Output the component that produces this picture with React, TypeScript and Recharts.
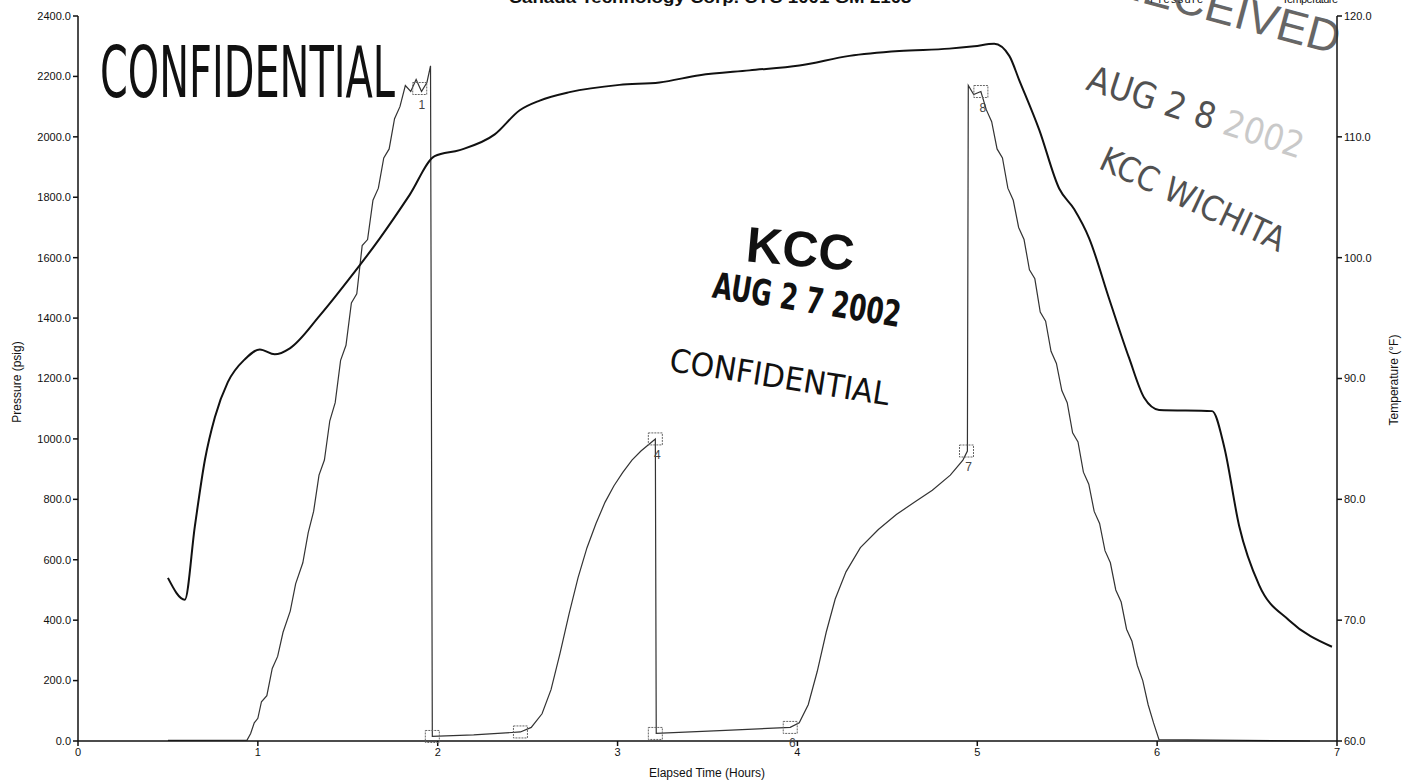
import React from 'react';
import {
  ComposedChart,
  Line,
  Scatter,
  XAxis,
  YAxis,
} from 'recharts';

const hourTicks = [0, 1, 2, 3, 4, 5, 6, 7];
const pressureTicks = [0, 200, 400, 600, 800, 1000, 1200, 1400, 1600, 1800, 2000, 2200, 2400];
const tempTicks = [60, 70, 80, 90, 100, 110, 120];

const pressureHours = [
  0.5, 0.94, 0.96, 0.98, 1.0, 1.02, 1.05, 1.08, 1.11, 1.14, 1.18, 1.21, 1.25, 1.28, 1.31, 1.34,
  1.37, 1.4, 1.43, 1.46, 1.49, 1.52, 1.55, 1.58, 1.61, 1.64, 1.67, 1.7, 1.73, 1.76, 1.79, 1.82,
  1.85, 1.88, 1.91, 1.94, 1.96, 1.97, 2.2, 2.46, 2.52, 2.58, 2.63, 2.68, 2.73, 2.78, 2.83, 2.88,
  2.93, 2.98, 3.03, 3.08, 3.13, 3.18, 3.21, 3.215, 3.6, 3.96, 4.01, 4.06, 4.11, 4.16, 4.21, 4.27,
  4.35, 4.45, 4.55, 4.65, 4.75, 4.85, 4.92, 4.945, 4.95, 4.98, 5.02, 5.05, 5.08, 5.11, 5.14, 5.17,
  5.2, 5.23, 5.26, 5.29, 5.32, 5.35, 5.38, 5.41, 5.44, 5.47, 5.5, 5.53, 5.56, 5.59, 5.62, 5.65,
  5.68, 5.71, 5.74, 5.77, 5.8, 5.83, 5.86, 5.89, 5.92, 5.95, 5.98, 6.01, 6.85,
];
const pressurePsig = [
  2, 3, 25, 60, 75, 130, 150, 240, 280, 360, 430, 520, 590, 690, 760, 880,
  930, 1060, 1120, 1260, 1310, 1450, 1480, 1640, 1660, 1790, 1830, 1930, 1960, 2060, 2100, 2170,
  2150, 2190, 2150, 2180, 2235, 15, 20, 30, 45, 90, 170, 290, 420, 540, 640, 720,
  790, 845, 890, 930, 960, 985, 1000, 25, 35, 45, 60, 120, 230, 360, 470, 560,
  640, 700, 750, 790, 830, 880, 930, 960, 2170, 2140, 2150, 2090, 2050, 1960, 1930, 1830,
  1790, 1700, 1660, 1560, 1530, 1420, 1390, 1290, 1250, 1160, 1120, 1020, 990, 890, 850, 760,
  720, 630, 590, 500, 460, 370, 330, 250, 200, 120, 60, 5, 0,
];

const tempHours = [
  0.5, 0.594, 0.65, 0.706, 0.761, 0.833, 0.928, 1.011, 1.094, 1.178, 1.344, 1.511, 1.678, 1.844,
  1.983, 2.122, 2.317, 2.456, 2.567, 2.733, 3.011, 3.233, 3.456, 3.733, 4.011, 4.289, 4.567, 4.844,
  4.983, 5.094, 5.178, 5.233, 5.344, 5.456, 5.539, 5.622, 5.733, 5.844, 5.928, 6.011, 6.306, 6.372,
  6.456, 6.567, 6.733, 6.972,
];
const tempF = [
  73.5, 71.7, 77.8, 83.3, 86.8, 89.7, 91.6, 92.4, 92.0, 92.5, 95.2, 98.3, 101.6, 105.2,
  108.4, 108.9, 110.2, 112.2, 113.0, 113.7, 114.3, 114.5, 115.1, 115.5, 115.9, 116.7, 117.1, 117.3,
  117.5, 117.7, 116.7, 114.7, 110.6, 105.7, 104.0, 101.6, 96.6, 91.7, 88.4, 87.4, 87.3, 84.4,
  77.8, 72.9, 70.0, 67.8,
];

const markerHours = [1.9, 1.97, 2.46, 3.21, 3.21, 3.96, 4.94, 5.02];
const markerPsig = [2160, 15, 30, 1000, 25, 45, 960, 2150];
const markerTags = ['1', '', '', '4', '', '6', '7', '8'];

const pressureData = pressureHours.map((t, i) => ({ t, p: pressurePsig[i] }));
const tempData = tempHours.map((t, i) => ({ t, temp: tempF[i] }));
const markerData = markerHours.map((t, i) => ({ t, p: markerPsig[i], tag: markerTags[i] }));

const FONT = '"Liberation Sans", Arial, sans-serif';
const NARROW = '"Liberation Sans Narrow", "DejaVu Sans Condensed", sans-serif';

function MarkerShape(props: any) {
  const { cx, cy, payload } = props;
  return (
    <g>
      <rect x={cx - 7} y={cy - 6} width={14} height={12} fill="none" stroke="#666" strokeWidth={1} strokeDasharray="2 1" />
      {payload.tag && (
        <text x={cx + 2} y={cy + 20} textAnchor="middle" fontSize={12} fontFamily={FONT} fill="#444">
          {payload.tag}
        </text>
      )}
    </g>
  );
}

export default function App() {
  return (
    <div style={{ position: 'absolute', left: 0, top: 0, width: 1417, height: 782, background: '#fff', overflow: 'hidden' }}>
      <ComposedChart width={1417} height={782} margin={{ top: 16, right: 0, bottom: 0, left: 0 }}>
        <XAxis
          dataKey="t"
          type="number"
          domain={[0, 7]}
          ticks={hourTicks}
          allowDuplicatedCategory={false}
          height={41}
          stroke="#111"
          strokeWidth={1.5}
          tickSize={5}
          tickMargin={2}
          tick={{ fontSize: 11, fill: '#111', fontFamily: FONT }}
        />
        <YAxis
          yAxisId="p"
          domain={[0, 2400]}
          ticks={pressureTicks}
          width={78}
          stroke="#111"
          strokeWidth={1.5}
          tickSize={5}
          tickMargin={2}
          tickFormatter={(v: number) => v.toFixed(1)}
          tick={{ fontSize: 11, fill: '#111', fontFamily: FONT }}
        />
        <YAxis
          yAxisId="temp"
          orientation="right"
          domain={[60, 120]}
          ticks={tempTicks}
          width={80}
          stroke="#111"
          strokeWidth={1.5}
          tickSize={5}
          tickMargin={2}
          tickFormatter={(v: number) => v.toFixed(1)}
          tick={{ fontSize: 11, fill: '#111', fontFamily: FONT }}
        />
        <Line
          yAxisId="p"
          data={pressureData}
          dataKey="p"
          type="linear"
          stroke="#333"
          strokeWidth={1.2}
          dot={false}
          isAnimationActive={false}
        />
        <Line
          yAxisId="temp"
          data={tempData}
          dataKey="temp"
          type="monotone"
          stroke="#111"
          strokeWidth={2}
          dot={false}
          isAnimationActive={false}
        />
        <Scatter
          yAxisId="p"
          data={markerData}
          dataKey="p"
          shape={<MarkerShape />}
          isAnimationActive={false}
        />
      </ComposedChart>

      <svg width={1417} height={782} style={{ position: 'absolute', left: 0, top: 0, pointerEvents: 'none' }}>
        {/* header, cut off at the top edge like the scan */}
        <text x={710} y={3} textAnchor="middle" fontSize={16} fontWeight="bold" fontFamily={FONT} fill="#111" textLength={403} lengthAdjust="spacingAndGlyphs">
          Canada Technology Corp. CTC 1001 GM 2103
        </text>
        <text x={1150} y={3} fontSize={11} fontFamily={FONT} fill="#111" textLength={53}>Pressure</text>
        <text x={1282} y={3} fontSize={11} fontFamily={FONT} fill="#111" textLength={56}>Temperature</text>

        {/* axis titles */}
        <text x={707} y={777} textAnchor="middle" fontSize={12} fontFamily={FONT} fill="#111">Elapsed Time (Hours)</text>
        <text transform="translate(21,382) rotate(-90)" textAnchor="middle" fontSize={12} fontFamily={FONT} fill="#111">Pressure (psig)</text>
        <text transform="translate(1398,380) rotate(-90)" textAnchor="middle" fontSize={12} fontFamily={FONT} fill="#111">Temperature (°F)</text>

        {/* stamps */}
        <text x={100} y={97} fontSize={72} fontFamily={NARROW} fill="#111" textLength={295} lengthAdjust="spacingAndGlyphs">
          CONFIDENTIAL
        </text>
        <text transform="translate(799,266) rotate(5)" textAnchor="middle" fontSize={50} fontWeight="bold" fontFamily={FONT} fill="#111">KCC</text>
        <text transform="translate(805,312) rotate(9)" textAnchor="middle" fontSize={36} fontWeight="bold" fontFamily={NARROW} fill="#111" textLength={190} lengthAdjust="spacingAndGlyphs">
          AUG 2 7 2002
        </text>
        <text transform="translate(778,388) rotate(9)" textAnchor="middle" fontSize={32} fontFamily={NARROW} fill="#111" textLength={222} lengthAdjust="spacingAndGlyphs">
          CONFIDENTIAL
        </text>
        <text transform="translate(1222,24) rotate(15)" textAnchor="middle" fontSize={46} fontFamily={FONT} fill="#333" opacity={0.75}>RECEIVED</text>
        <text transform="translate(1192,124) rotate(18)" textAnchor="middle" fontSize={36} fontFamily={NARROW} fill="#333" opacity={0.85}>
          AUG 2 8 <tspan opacity={0.3}>2002</tspan>
        </text>
        <text transform="translate(1188,210) rotate(25)" textAnchor="middle" fontSize={34} fontFamily={NARROW} fill="#333" opacity={0.85}>KCC WICHITA</text>
      </svg>
    </div>
  );
}
